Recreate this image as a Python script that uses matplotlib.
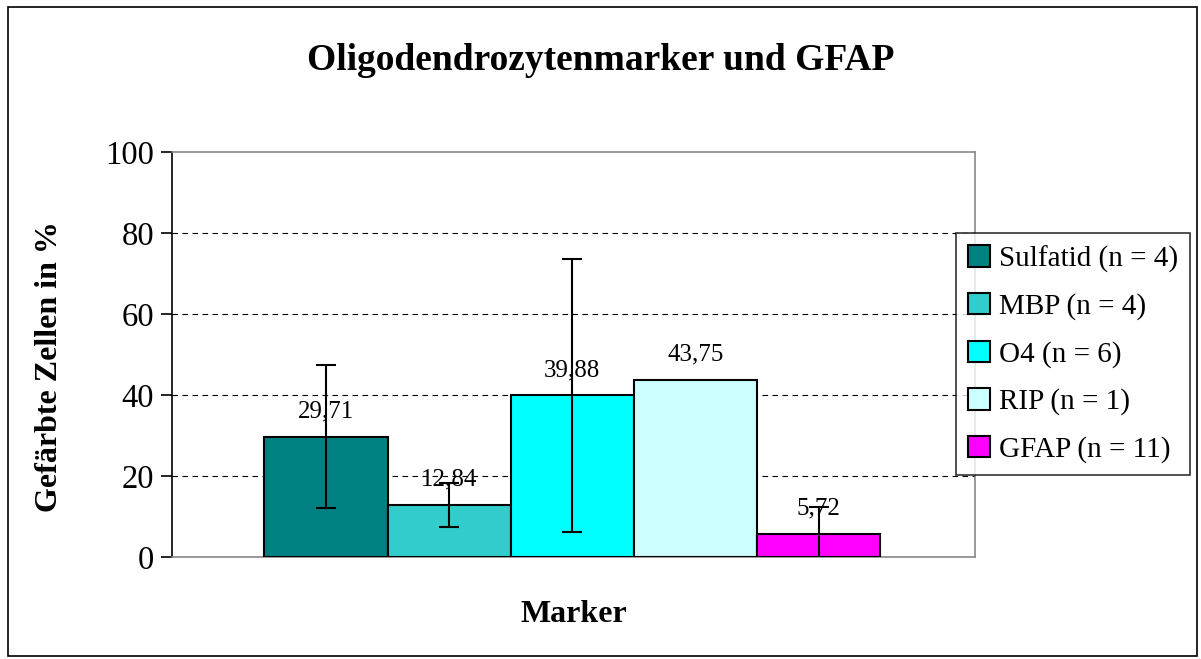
import matplotlib
matplotlib.use("Agg")
import matplotlib.pyplot as plt
from matplotlib.patches import Rectangle

plt.rcParams["font.family"] = "Liberation Serif"

labels = ["Sulfatid (n = 4)", "MBP (n = 4)", "O4 (n = 6)", "RIP (n = 1)", "GFAP (n = 11)"]
values = [29.71, 12.84, 39.88, 43.75, 5.72]
errors = [17.6, 5.45, 33.6, None, 6.6]
value_text = ["29,71", "12,84", "39,88", "43,75", "5,72"]
colors = ["#008080", "#33CCCC", "#00FFFF", "#CCFFFF", "#FF00FF"]

fig = plt.figure(figsize=(12.01, 6.59), dpi=100)
ax = fig.add_axes([172 / 1201, 1 - 557 / 659, 803 / 1201, 405 / 659])

# outer frame around the whole chart
fig.patches.append(Rectangle((8 / 1201, 3 / 659), 1189 / 1201, 649 / 659,
                             transform=fig.transFigure, fill=False,
                             edgecolor="black", linewidth=1.2))

for i, (v, c, lab) in enumerate(zip(values, colors, labels)):
    ax.bar(i, v, width=1.0, color=c, edgecolor="black", linewidth=1.5,
           label=lab, zorder=3)
    if errors[i] is not None:
        ax.errorbar(i, v, yerr=errors[i], fmt="none", ecolor="black",
                    elinewidth=1.5, capsize=7, capthick=1.5, zorder=4)
    ax.text(i, v + 3.5, value_text[i], ha="center", va="bottom",
            fontsize=18, zorder=5)

ax.set_xlim(-1.25, 5.27)
ax.set_ylim(0, 100)
ax.set_yticks([0, 20, 40, 60, 80, 100])
ax.set_xticks([])
ax.tick_params(axis="y", direction="out", length=8, width=1.2,
               labelsize=23.5, pad=5)
for y in [20, 40, 60, 80]:
    ax.axhline(y, color="black", linestyle=(0, (5, 4)), linewidth=0.8, zorder=1)

for side in ["top", "right", "bottom"]:
    ax.spines[side].set_color("#888888")
    ax.spines[side].set_linewidth(1.2)
ax.spines["left"].set_color("black")
ax.spines["left"].set_linewidth(1.2)

ax.set_ylabel("Gefärbte Zellen in %", fontsize=23, fontweight="bold")
ax.yaxis.set_label_coords(-0.152, 0.469)
ax.set_xlabel("Marker", fontsize=23, fontweight="bold")
ax.xaxis.set_label_coords(0.501, -0.143)
ax.xaxis.label.set_va("center")
ax.yaxis.label.set_va("center")
fig.text(0.5, 1 - 60 / 659, "Oligodendrozytenmarker und GFAP",
         ha="center", va="center", fontsize=27, fontweight="bold")

leg = ax.legend(loc="upper left", bbox_to_anchor=(956 / 1201, 1 - 233 / 659),
                bbox_transform=fig.transFigure, fontsize=21, frameon=True,
                fancybox=False, shadow=False, handlelength=0.75,
                handleheight=0.75, handletextpad=0.3, labelspacing=0.7,
                borderpad=0.42, borderaxespad=0)
leg.get_frame().set_edgecolor("black")
leg.get_frame().set_linewidth(1.2)
for h in leg.legend_handles:
    h.set_linewidth(1.5)

fig.savefig("out.png", dpi=100)
plt.close()
